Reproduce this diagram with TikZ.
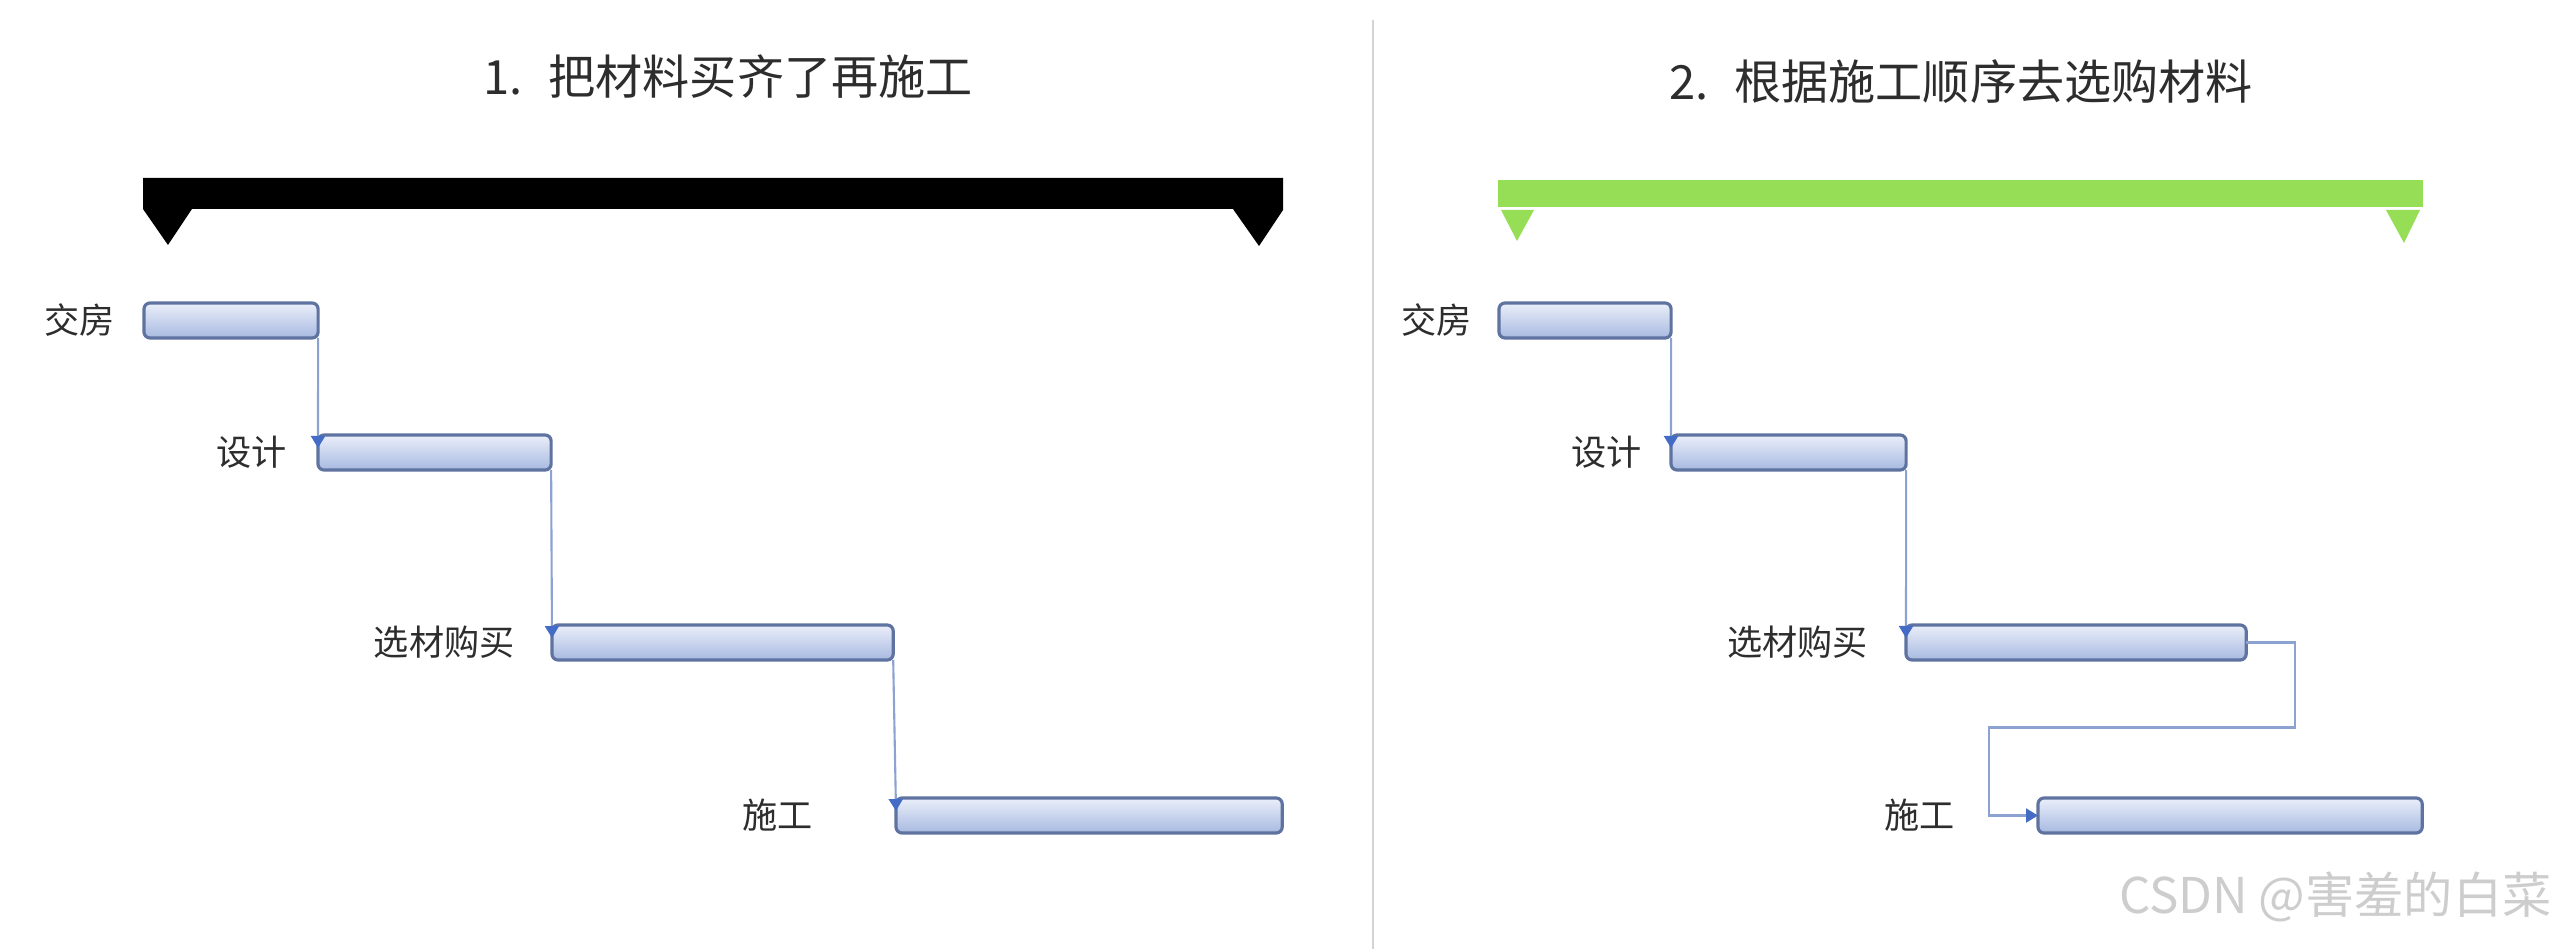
\documentclass[tikz,border=0pt]{standalone}
\usepackage{fontspec}
\setmainfont{Noto Sans CJK SC}
\usepackage{tikz}
\usetikzlibrary{arrows.meta,positioning,calc}
\tikzset{every picture/.style={line width=0.75pt}}

\definecolor{barline}{RGB}{95,115,160}
\definecolor{bartop}{RGB}{234,238,249}
\definecolor{barbot}{RGB}{168,186,225}
\definecolor{connline}{RGB}{140,162,210}
\definecolor{tipblue}{RGB}{68,108,198}
\definecolor{sumgreen}{RGB}{150,222,85}
\definecolor{txt}{RGB}{45,45,45}
\definecolor{divider}{RGB}{212,212,212}
\definecolor{wmark}{RGB}{205,205,205}

\begin{document}
\begin{tikzpicture}[x=0.01cm, y=-0.01cm,
    bar/.style={draw=barline, line width=0.9pt, rounded corners=0.6mm,
        top color=bartop, bottom color=barbot, minimum height=0.35cm,
        inner sep=0pt, outer sep=0pt, anchor=north west},
    lbl/.style={font=\fontsize{10}{12}\selectfont, text=txt, inner sep=0pt},
    ttl/.style={font=\fontsize{13.4}{16}\selectfont, text=txt, inner sep=0pt},
    conn/.style={draw=connline, line width=0.6pt,
        -{Triangle[width=1.4mm,length=1.2mm,color=tipblue]}}]
    \useasboundingbox (0,0) rectangle (2559,949);

    % 标题
    \node[ttl] (t1) at (728,77) {1.\hspace{0.55em}把材料买齐了再施工};
    \node[ttl] (t2) at (1961,82) {2.\hspace{0.55em}根据施工顺序去选购材料};

    % 分隔线
    \draw[divider, line width=0.6pt] (1373,20) -- (1373,949);

    % 汇总条（左）
    \fill[black] (143,178) -- (1283,178) -- (1283,210) -- (1259,246) -- (1233,209)
        -- (192,209) -- (168,245) -- (143,209) -- cycle;

    % 汇总条（右）
    \fill[sumgreen] (1498,180) rectangle (2423,207);
    \fill[sumgreen] (1501,210) -- (1534,210) -- (1517,241) -- cycle;
    \fill[sumgreen] (2386,210) -- (2420,210) -- (2404,243) -- cycle;

    % 左图：任务条
    \node[bar, minimum width=1.74cm] (jfA) at (144,303) {};
    \node[bar, minimum width=2.33cm] (sjA) at (318,435) {};
    \node[bar, minimum width=3.41cm] (xcA) at (552,625) {};
    \node[bar, minimum width=3.86cm] (sgA) at (896,798) {};
    \node[lbl, left=2.8mm of jfA] {交房};
    \node[lbl, left=3.0mm of sjA] {设计};
    \node[lbl, left=3.6mm of xcA] {选材购买};
    \node[lbl, left=8.2mm of sgA] {施工};

    % 左图：依赖
    \draw[conn] (jfA.south east) -- ($(sjA.north west)+(0,13)$);
    \draw[conn] (sjA.south east) -- ($(xcA.north west)+(0,13)$);
    \draw[conn] (xcA.south east) -- ($(sgA.north west)+(0,13)$);

    % 右图：任务条
    \node[bar, minimum width=1.72cm] (jfB) at (1499,303) {};
    \node[bar, minimum width=2.35cm] (sjB) at (1671,435) {};
    \node[bar, minimum width=3.40cm] (xcB) at (1906,625) {};
    \node[bar, minimum width=3.84cm] (sgB) at (2038,798) {};
    \node[lbl, left=2.6mm of jfB] {交房};
    \node[lbl, left=2.8mm of sjB] {设计};
    \node[lbl, left=3.7mm of xcB] {选材购买};
    \node[lbl, left=8.2mm of sgB] {施工};

    % 右图：依赖
    \draw[conn] (jfB.south east) -- ($(sjB.north west)+(0,13)$);
    \draw[conn] (sjB.south east) -- ($(xcB.north west)+(0,13)$);
    \draw[conn] (xcB.east) -- ++(49,0) -- ++(0,85) -- ++(-306,0) |- (sgB.west);

    % 水印
    \node[font=\fontsize{14}{16}\selectfont, text=wmark, inner sep=0pt, anchor=east] (wm)
        at (2553,897) {CSDN @害羞的白菜};
\end{tikzpicture}
\end{document}
